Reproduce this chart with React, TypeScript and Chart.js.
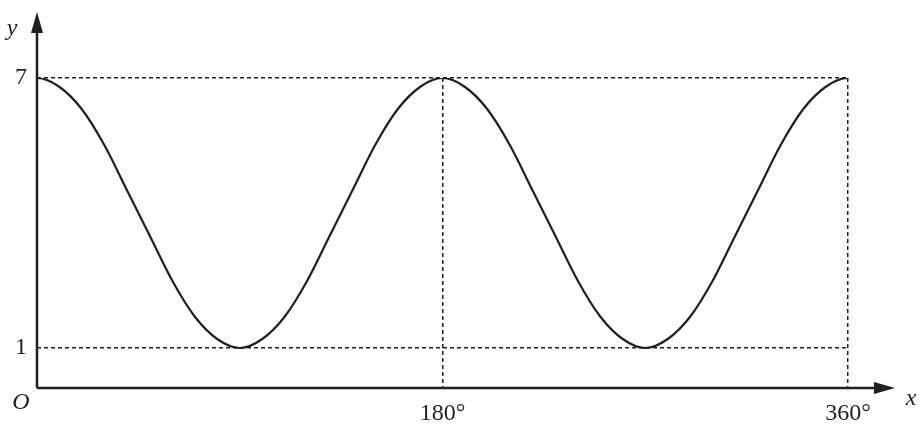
import { useEffect, useRef } from "react"
import { Chart, registerables } from "chart.js"

Chart.register(...registerables)

// angle in degrees, read every 10° (one step past each end so the curve meets the edges flat; clipped)
const angles = [
  -10, 0, 10, 20, 30, 40, 50, 60, 70, 80, 90, 100, 110, 120, 130, 140, 150, 160, 170, 180,
  190, 200, 210, 220, 230, 240, 250, 260, 270, 280, 290, 300, 310, 320, 330, 340, 350, 360, 370,
]
const yValues = [
  6.8, 7, 6.8, 6.3, 5.5, 4.5, 3.5, 2.5, 1.7, 1.2, 1, 1.2, 1.7, 2.5, 3.5, 4.5, 5.5, 6.3, 6.8, 7,
  6.8, 6.3, 5.5, 4.5, 3.5, 2.5, 1.7, 1.2, 1, 1.2, 1.7, 2.5, 3.5, 4.5, 5.5, 6.3, 6.8, 7, 6.8,
]
const xTicks = [180, 360]
const yTicks = [1, 7]

const INK = "#231f20"
const SERIF = "'Liberation Serif', 'DejaVu Serif', serif"

// axes with arrow heads and the italic letters
const axisArrows = {
  id: "axisArrows",
  afterDraw(chart: Chart) {
    const { ctx, chartArea } = chart
    const { left, bottom } = chartArea
    ctx.save()
    ctx.strokeStyle = INK
    ctx.fillStyle = INK
    ctx.lineWidth = 2.5
    ctx.setLineDash([])
    const topTip = 12
    const rightTip = 895
    ctx.beginPath()
    ctx.moveTo(left, bottom)
    ctx.lineTo(left, topTip + 10)
    ctx.moveTo(left, bottom)
    ctx.lineTo(rightTip - 10, bottom)
    ctx.stroke()
    // y arrow
    ctx.beginPath()
    ctx.moveTo(left, topTip)
    ctx.lineTo(left - 6, topTip + 21)
    ctx.lineTo(left + 6, topTip + 21)
    ctx.closePath()
    ctx.fill()
    // x arrow
    ctx.beginPath()
    ctx.moveTo(rightTip, bottom)
    ctx.lineTo(rightTip - 21, bottom - 6)
    ctx.lineTo(rightTip - 21, bottom + 6)
    ctx.closePath()
    ctx.fill()

    ctx.font = `italic 24px ${SERIF}`
    ctx.textAlign = "center"
    ctx.textBaseline = "middle"
    ctx.fillText("y", 12, 29)
    ctx.fillText("x", 911, 399)
    ctx.fillText("O", 21, 403)
    ctx.restore()
  },
}

function SineChart() {
  const chartRef = useRef<HTMLCanvasElement | null>(null)
  const chartInstance = useRef<Chart | null>(null)

  useEffect(() => {
    if (!chartRef.current) return
    if (chartInstance.current) chartInstance.current.destroy()
    const ctx = chartRef.current.getContext("2d")
    if (!ctx) return

    chartInstance.current = new Chart(ctx, {
      type: "line",
      data: {
        datasets: [
          {
            data: angles.map((a, i) => ({ x: a, y: yValues[i] })),
            borderColor: INK,
            borderWidth: 2.2,
            pointRadius: 0,
            cubicInterpolationMode: "monotone",
            fill: false,
            clip: 0,
          },
        ],
      },
      options: {
        animation: false,
        responsive: true,
        maintainAspectRatio: false,
        layout: { padding: { top: 78, right: 74, left: 0, bottom: 0 } },
        plugins: { legend: { display: false }, tooltip: { enabled: false } },
        scales: {
          x: {
            type: "linear",
            min: 0,
            max: 360,
            afterBuildTicks: (scale) => {
              scale.ticks = xTicks.map((v) => ({ value: v }))
            },
            afterFit: (scale) => {
              scale.height = 47
            },
            border: { display: false, dash: [4, 3] },
            grid: {
              color: INK,
              lineWidth: 1.5,
              drawTicks: false,
            },
            ticks: {
              color: INK,
              font: { family: SERIF, size: 24 },
              padding: 11,
              maxRotation: 0,
              callback: (v) => `${v}°`,
            },
          },
          y: {
            min: 0.111,
            max: 7,
            afterBuildTicks: (scale) => {
              scale.ticks = yTicks.map((v) => ({ value: v }))
            },
            afterFit: (scale) => {
              scale.width = 37
            },
            border: { display: false, dash: [4, 3] },
            grid: {
              color: INK,
              lineWidth: 1.5,
              drawTicks: false,
            },
            ticks: {
              color: INK,
              font: { family: SERIF, size: 24 },
              padding: 10,
              callback: (v) => `${v}`,
            },
          },
        },
      },
      plugins: [axisArrows],
    })

    return () => {
      if (chartInstance.current) {
        chartInstance.current.destroy()
        chartInstance.current = null
      }
    }
  }, [])

  return <canvas ref={chartRef} />
}

export default function App() {
  return (
    <div style={{ position: "absolute", left: 0, top: 0, width: 922, height: 435, background: "#fff" }}>
      <SineChart />
    </div>
  )
}
